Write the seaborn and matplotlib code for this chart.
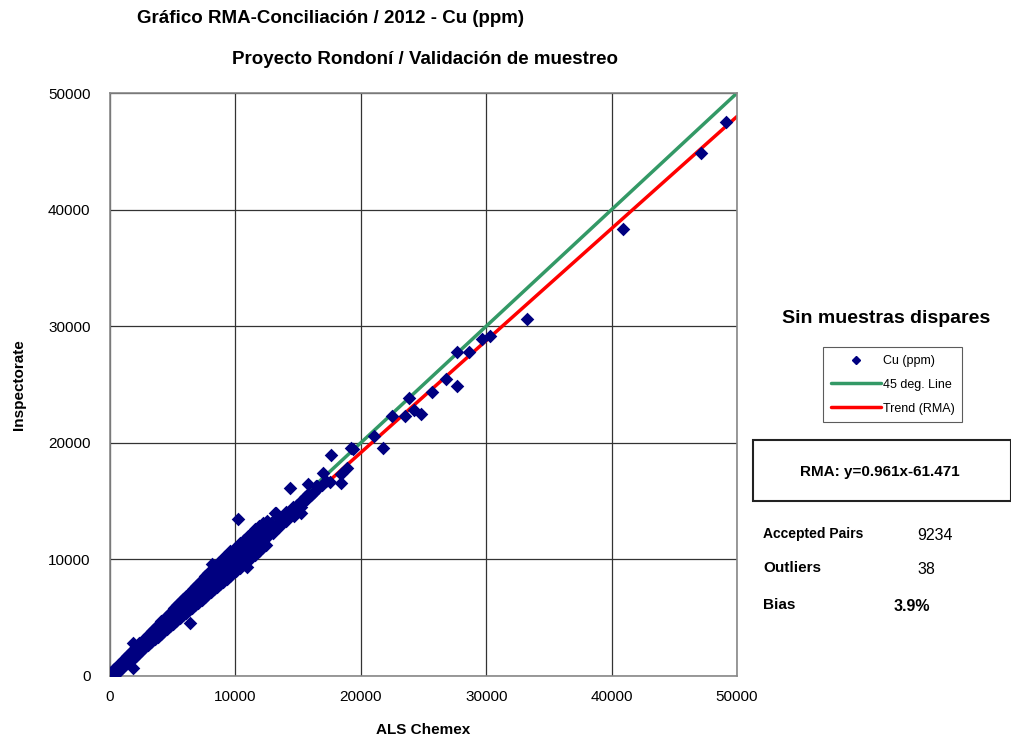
import matplotlib
matplotlib.use('Agg')
import matplotlib.pyplot as plt
from matplotlib.patches import Rectangle
from matplotlib.lines import Line2D
import pandas as pd
import seaborn as sns

# ALS Chemex (x) vs Inspectorate (y), Cu ppm
band_als = [100, 350, 600, 850, 1100, 1350, 1600, 1850, 2100, 2350, 2600, 2850, 3100, 3350, 3600, 3850,
            4100, 4350, 4600, 4850, 5100, 5350, 5600, 5850, 6100, 6350, 6600, 6850, 7100, 7350, 7600, 7850,
            8100, 8350, 8600, 8850, 9100, 9350, 9600, 9850, 10100, 10400, 10700, 11000, 11300, 11600, 11900,
            12200, 12500,
            150, 450, 750, 1050, 1350, 1650, 1950, 2250, 2550, 2850, 3150, 3450, 3750, 4050, 4350, 4650,
            4950, 5250, 5550, 5850, 6150, 6450, 6750, 7050, 7350, 7650, 7950, 8250, 8550, 8850, 9150, 9450,
            9750, 10050, 10350, 10650, 10950, 11250, 11550, 11850, 12150, 12800, 13400, 14000, 14600, 15200,
            15800, 16400,
            0, 250, 500, 750, 1000, 1250, 1500, 1750, 2000, 2250, 2500, 2750, 3000, 3250, 3500, 3750, 4000,
            4250, 4500, 4750, 5000, 5250, 5500, 5750, 6000, 6250, 6500, 6750, 7000, 7250, 7500, 7750, 8000,
            8250, 8500, 8750, 9000, 9250, 9500, 9750, 10000, 10300, 10600, 10900, 11200, 11500, 11800, 12100,
            12400, 12700, 13000, 13300, 13600, 13900, 14200, 14500, 14800, 15100, 15400, 15700, 16000, 16300,
            16600, 16900, 17200,
            200, 500, 800, 1100, 1400, 1700, 2000, 2300, 2600, 2900, 3200, 3500, 3800, 4100, 4400, 4700,
            5000, 5300, 5600, 5900, 6200, 6500, 6800, 7100, 7400, 7700, 8000, 8300, 8600, 8900, 9200, 9500,
            9800, 10100, 10400, 10700, 11000, 11300, 11600, 11900, 12200, 12600, 13000, 13500, 14000, 14600,
            15200,
            300, 550, 800, 1050, 1300, 1550, 1800, 2050, 2300, 2550, 2800, 3050, 3300, 3550, 3800, 4050, 4300,
            4550, 4800, 5050, 5300, 5550, 5800, 6050, 6300, 6550, 6800, 7050, 7300, 7550, 7800, 8050, 8300,
            8550, 8800, 9050, 9300, 9550, 9800, 10050, 10350, 10650, 10950, 11250, 11550, 11850, 12150, 12450]
band_insp = [300, 600, 900, 1150, 1450, 1700, 1950, 2250, 2500, 2800, 3050, 3300, 3600, 3850, 4150, 4400,
             4700, 4950, 5250, 5500, 5800, 6050, 6350, 6600, 6900, 7150, 7450, 7700, 8000, 8250, 8550, 8800,
             9100, 9350, 9650, 9900, 10200, 10400, 10700, 10900, 11100, 11400, 11700, 12000, 12300, 12600, 12900,
             13100, 13300,
             250, 560, 880, 1190, 1500, 1820, 2130, 2440, 2760, 3070, 3380, 3700, 4010, 4320, 4640, 4950,
             5260, 5580, 5890, 6200, 6520, 6830, 7140, 7460, 7770, 8080, 8400, 8710, 9020, 9340, 9650, 9960,
             10280, 10590, 10900, 11220, 11530, 11840, 12160, 12470, 12700, 13100, 13600, 14100, 14500, 15000,
             15600, 16300,
             50, 250, 480, 760, 1000, 1270, 1480, 1770, 2000, 2240, 2520, 2740, 3010, 3260, 3520, 3740, 4030,
             4240, 4510, 4760, 5020, 5230, 5520, 5760, 6030, 6240, 6510, 6770, 7020, 7230, 7510, 7760, 8030,
             8240, 8500, 8760, 9020, 9230, 9500, 9760, 10000, 10250, 10500, 10800, 11050, 11300, 11600, 11850,
             12100, 12350, 12600, 12900, 13200, 13500, 13800, 14100, 14300, 14600, 14900, 15200, 15500, 15800,
             16100, 16400, 16700,
             100, 380, 670, 960, 1240, 1530, 1820, 2110, 2400, 2680, 2970, 3260, 3550, 3840, 4120, 4410,
             4700, 4990, 5280, 5560, 5850, 6140, 6430, 6720, 7000, 7290, 7580, 7870, 8160, 8440, 8730, 9020,
             9310, 9600, 9880, 10170, 10460, 10750, 11040, 11320, 11600, 12000, 12300, 12800, 13300, 13900,
             14500,
             50, 280, 500, 760, 1000, 1250, 1500, 1700, 1950, 2200, 2450, 2650, 2900, 3150, 3350, 3600, 3850,
             4050, 4300, 4500, 4750, 4950, 5200, 5400, 5650, 5850, 6100, 6300, 6550, 6750, 7000, 7200, 7450,
             7650, 7900, 8100, 8350, 8550, 8800, 9000, 9300, 9600, 9850, 10150, 10400, 10700, 10950, 11200]

spread_als = [1860, 1860, 6380, 8100, 10180, 10900, 13160, 14350, 13240, 14700, 15000, 15200, 14400, 14900,
              15550, 15760, 16210, 16530, 17010, 17540, 17590, 18390, 18420, 18870, 19220, 19350, 21070, 21740,
              22490, 23500, 23870, 24220, 24830, 25700, 26790, 27640, 27700, 28650, 29640, 30300, 33230, 40880,
              47130, 49120]
spread_insp = [2800, 660, 4520, 9600, 13460, 9380, 13950, 16100, 14010, 13700, 14400, 14000, 14200, 14700,
               15380, 16490, 15670, 16300, 17440, 16670, 18950, 16530, 17300, 17870, 19530, 19440, 20580, 19580,
               22300, 22320, 23870, 22810, 22440, 24360, 25450, 24900, 27810, 27760, 28880, 29160, 30590, 38360,
               44880, 47490]

axis_range = [0, 50000]
rma_slope = 0.961
rma_intercept = -61.471

pairs = pd.DataFrame({'ALS': band_als + spread_als, 'Insp': band_insp + spread_insp})
lines = pd.DataFrame({'x': axis_range,
                      'deg45': axis_range,
                      'rma': [rma_slope * v + rma_intercept for v in axis_range]})

sns.set_style('white')
plt.rcParams['font.family'] = ['Liberation Sans', 'DejaVu Sans']
plt.rcParams['text.color'] = 'black'
plt.rcParams['axes.labelcolor'] = 'black'

fig = plt.figure(figsize=(10.11, 7.40), dpi=100)
ax = fig.add_axes([0.1088, 0.0865, 0.6202, 0.7878])

green = '#339966'
navy = '#000080'
sns.lineplot(data=lines, x='x', y='deg45', color=green, lw=2.5, ax=ax, zorder=2)
sns.lineplot(data=lines, x='x', y='rma', color='red', lw=2.5, ax=ax, zorder=2)
sns.scatterplot(data=pairs, x='ALS', y='Insp', marker='D', s=48, color=navy,
                edgecolor=navy, linewidth=0, ax=ax, zorder=3)

ax.set_xlim(axis_range)
ax.set_ylim(axis_range)
ax.set_xticks(range(0, 50001, 10000))
ax.set_yticks(range(0, 50001, 10000))
ax.grid(True, color='#333333', lw=0.9)
ax.set_axisbelow(True)
for sp in ax.spines.values():
    sp.set_color('#888888')
    sp.set_linewidth(1.2)
ax.tick_params(axis='both', direction='out', length=4, width=0.8, color='#666666',
               labelsize=11, labelcolor='black', pad=6)
ax.tick_params(axis='y', pad=10)
ax.set_xlabel('ALS Chemex', fontsize=11, fontweight='bold', labelpad=14)
ax.set_ylabel('Inspectorate', fontsize=11, fontweight='bold', labelpad=16)

fig.text(0.327, 0.975, 'Gráfico RMA-Conciliación / 2012 - Cu (ppm)', ha='center', va='center',
         fontsize=13.5, fontweight='bold')
fig.text(0.42, 0.919, 'Proyecto Rondoní / Validación de muestreo', ha='center', va='center',
         fontsize=13.5, fontweight='bold')

fig.text(0.876, 0.569, 'Sin muestras dispares', ha='center', va='center', fontsize=14, fontweight='bold')

handles = [Line2D([], [], marker='D', color=navy, ls='none', markersize=4),
           Line2D([], [], color=green, lw=2.5),
           Line2D([], [], color='red', lw=2.5)]
leg = fig.legend(handles, ['Cu (ppm)', '45 deg. Line', 'Trend (RMA)'], loc='upper left',
                 bbox_to_anchor=(0.808, 0.539), fontsize=9, frameon=True, fancybox=False,
                 handlelength=4.0, handletextpad=0.2, labelspacing=0.95, borderpad=0.6)
leg.get_frame().set_edgecolor('#333333')
leg.get_frame().set_linewidth(0.8)

fig.patches.append(Rectangle((0.745, 0.323), 0.255, 0.082, transform=fig.transFigure,
                             fill=False, edgecolor='#222222', lw=1.5))
fig.text(0.870, 0.362, 'RMA: y=0.961x-61.471', ha='center', va='center', fontsize=11, fontweight='bold')

fig.text(0.755, 0.278, 'Accepted Pairs', ha='left', va='center', fontsize=10, fontweight='bold')
fig.text(0.907, 0.277, '9234', ha='left', va='center', fontsize=11.5)
fig.text(0.755, 0.232, 'Outliers', ha='left', va='center', fontsize=11, fontweight='bold')
fig.text(0.907, 0.231, '38', ha='left', va='center', fontsize=11.5)
fig.text(0.755, 0.182, 'Bias', ha='left', va='center', fontsize=11, fontweight='bold')
fig.text(0.884, 0.181, '3.9%', ha='left', va='center', fontsize=11.5, fontweight='bold')

fig.savefig('out.png', dpi=100)
